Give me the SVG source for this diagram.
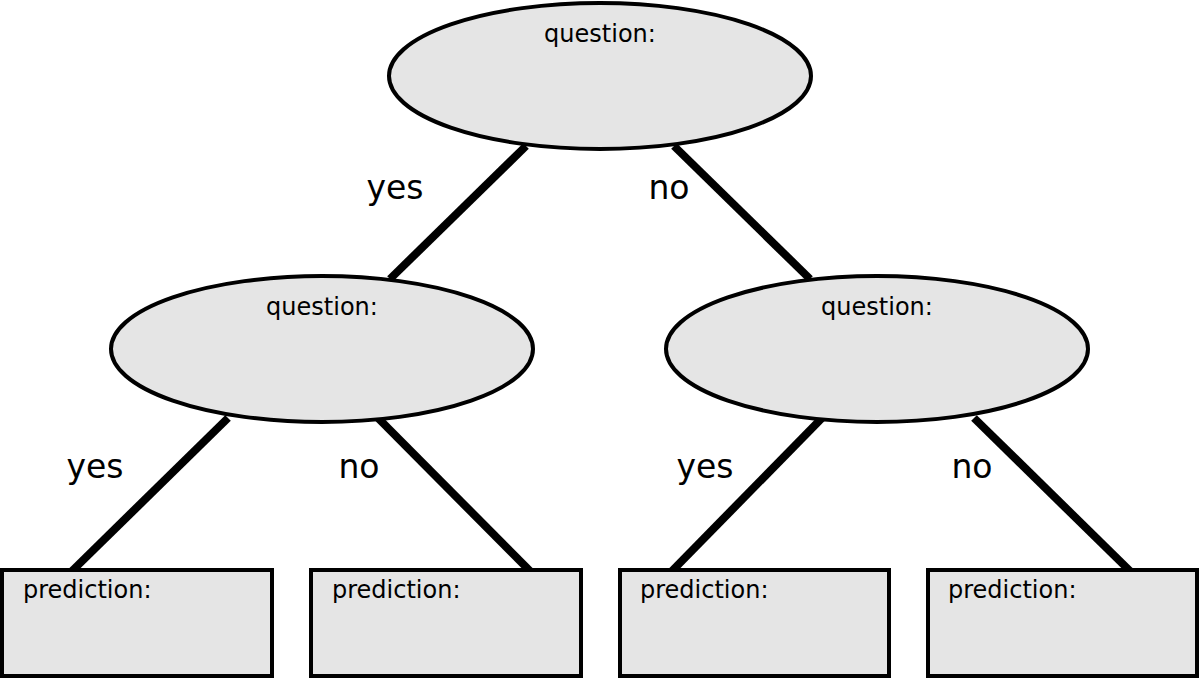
<svg xmlns="http://www.w3.org/2000/svg" width="1200" height="679" viewBox="0 0 1200 679">
<style>
.n{fill:#e5e5e5;stroke:#000;stroke-width:4}
.e{stroke:#000;stroke-width:8;fill:none}
.t{font-family:"DejaVu Sans",sans-serif;font-size:24px;fill:#000}
.l{font-family:"DejaVu Sans",sans-serif;font-size:33px;fill:#000;text-anchor:middle}
</style>
<rect width="1200" height="679" fill="#fff"/>
<g id="edges">
<line class="e" x1="526" y1="146" x2="390" y2="279"/>
<line class="e" x1="674" y1="146" x2="810" y2="279"/>
<line class="e" x1="228" y1="418" x2="72" y2="571"/>
<line class="e" x1="378" y1="418" x2="530" y2="571"/>
<line class="e" x1="822" y1="418" x2="672" y2="571"/>
<line class="e" x1="974" y1="418" x2="1130" y2="571"/>
<text class="l" x="395" y="199">yes</text>
<text class="l" x="669" y="199">no</text>
<text class="l" x="95" y="478">yes</text>
<text class="l" x="359" y="478">no</text>
<text class="l" x="705" y="478">yes</text>
<text class="l" x="972" y="478">no</text>
</g>
<g id="q0"><ellipse class="n" cx="600" cy="76" rx="211" ry="73"/><text class="t" x="600" y="42" text-anchor="middle">question:</text></g>
<g id="q1"><ellipse class="n" cx="322" cy="349" rx="211" ry="73"/><text class="t" x="322" y="315" text-anchor="middle">question:</text></g>
<g id="q2"><ellipse class="n" cx="877" cy="349" rx="211" ry="73"/><text class="t" x="877" y="315" text-anchor="middle">question:</text></g>
<g id="p1"><rect class="n" x="2" y="570" width="270" height="106"/><text class="t" x="23" y="598">prediction:</text></g>
<g id="p2"><rect class="n" x="311" y="570" width="270" height="106"/><text class="t" x="332" y="598">prediction:</text></g>
<g id="p3"><rect class="n" x="620" y="570" width="269" height="106"/><text class="t" x="640" y="598">prediction:</text></g>
<g id="p4"><rect class="n" x="928" y="570" width="269" height="106"/><text class="t" x="948" y="598">prediction:</text></g>
</svg>
